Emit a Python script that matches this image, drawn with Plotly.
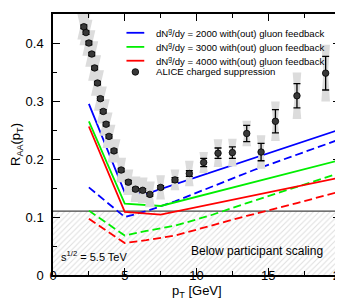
import plotly.graph_objects as go

# ---------------- data ----------------
alice_pt = [2.15, 2.3, 2.5, 2.7, 2.9, 3.1, 3.3, 3.5, 3.7, 3.9, 4.25, 4.75, 5.25, 5.75,
            6.25, 6.75, 7.5, 8.5, 9.5, 10.5, 11.5, 12.5, 13.5, 14.5, 15.5, 17.0, 19.0]
alice_raa = [0.428, 0.418, 0.400, 0.381, 0.357, 0.331, 0.304, 0.282, 0.260, 0.239, 0.214,
             0.181, 0.160, 0.148, 0.146, 0.139, 0.151, 0.164, 0.175, 0.194, 0.210, 0.211,
             0.244, 0.212, 0.265, 0.309, 0.348]
alice_stat = [0.003, 0.003, 0.003, 0.003, 0.003, 0.003, 0.003, 0.003, 0.003, 0.003, 0.003,
              0.003, 0.003, 0.003, 0.003, 0.003, 0.003, 0.004, 0.005, 0.007, 0.009, 0.010,
              0.014, 0.015, 0.020, 0.021, 0.029]
alice_sys = [0.022, 0.022, 0.022, 0.022, 0.022, 0.022, 0.021, 0.021, 0.020, 0.020, 0.020,
             0.021, 0.022, 0.022, 0.022, 0.022, 0.021, 0.018, 0.022, 0.018, 0.024, 0.024,
             0.022, 0.029, 0.034, 0.040, 0.049]
alice_boxw = [0.45, 0.45, 0.45, 0.45, 0.45, 0.45, 0.45, 0.45, 0.45, 0.45, 0.45,
              0.34, 0.34, 0.34, 0.34, 0.34, 0.30, 0.30, 0.30, 0.30, 0.30, 0.30,
              0.30, 0.30, 0.30, 0.30, 0.30]

blue_solid_x = [2.5, 5.0, 6.5, 20.0]
blue_solid_y = [0.295, 0.142, 0.140, 0.251]
blue_dash_x = [2.5, 5.0, 6.5, 8.5, 14.0, 20.0]
blue_dash_y = [0.151, 0.100, 0.110, 0.127, 0.181, 0.234]
green_solid_x = [2.5, 5.0, 7.5, 20.0]
green_solid_y = [0.265, 0.123, 0.119, 0.198]
green_dash_x = [2.5, 5.0, 6.5, 8.5, 11.0, 13.5, 17.0, 20.0]
green_dash_y = [0.111, 0.068, 0.076, 0.085, 0.103, 0.124, 0.152, 0.176]
red_solid_x = [2.5, 5.0, 7.5, 20.0]
red_solid_y = [0.256, 0.109, 0.104, 0.168]
red_dash_x = [2.5, 5.0, 6.5, 8.5, 11.0, 13.5, 17.0, 20.0]
red_dash_y = [0.097, 0.055, 0.060, 0.068, 0.085, 0.102, 0.124, 0.144]

participant_level = 0.11
x_range = [0, 20]
y_range = [0, 0.45]

legend_labels = ["dN<sup>g</sup>/dy = 2000 with(out) gluon feedback",
                 "dN<sup>g</sup>/dy = 3000 with(out) gluon feedback",
                 "dN<sup>g</sup>/dy = 4000 with(out) gluon feedback",
                 "ALICE charged suppression"]
legend_colors = ["#0000ff", "#00ee00", "#ff0000"]

FONT = "Liberation Sans, Arial, sans-serif"

fig = go.Figure()

# hatched "below participant scaling" region
fig.add_trace(go.Scatter(
    x=[x_range[0], x_range[1], x_range[1], x_range[0], x_range[0]],
    y=[0, 0, participant_level, participant_level, 0],
    fill="toself", mode="none", fillcolor="white",
    fillpattern=dict(shape="/", fgcolor="#bdbdbd", bgcolor="white", size=4, solidity=0.25),
    hoverinfo="skip", showlegend=False))
fig.add_trace(go.Scatter(
    x=x_range, y=[participant_level, participant_level], mode="lines",
    line=dict(color="#444444", width=1.3), hoverinfo="skip", showlegend=False))

# model curves
curves = [
    (blue_solid_x, blue_solid_y, legend_colors[0], "solid"),
    (blue_dash_x, blue_dash_y, legend_colors[0], "8px,4px"),
    (green_solid_x, green_solid_y, legend_colors[1], "solid"),
    (green_dash_x, green_dash_y, legend_colors[1], "8px,4px"),
    (red_solid_x, red_solid_y, legend_colors[2], "solid"),
    (red_dash_x, red_dash_y, legend_colors[2], "8px,4px"),
]
for cx, cy, col, dash in curves:
    fig.add_trace(go.Scatter(x=cx, y=cy, mode="lines",
                             line=dict(color=col, width=1.8, dash=dash),
                             hoverinfo="skip", showlegend=False))

# systematic boxes (hourglass shaped grey boxes)
bx, by = [], []
for x, y, s, w in zip(alice_pt, alice_raa, alice_sys, alice_boxw):
    bx += [x - w, x + w, x + 0.55 * w, x + w, x - w, x - 0.55 * w, x - w, None]
    by += [y + s, y + s, y, y - s, y - s, y, y + s, None]
fig.add_trace(go.Scatter(x=bx, y=by, fill="toself", mode="none",
                         fillcolor="#dcdcdc", hoverinfo="skip", showlegend=False))

# ALICE points
fig.add_trace(go.Scatter(
    x=alice_pt, y=alice_raa, mode="markers",
    marker=dict(size=6.5, color="#383838", line=dict(color="black", width=0.8)),
    error_y=dict(type="data", array=alice_stat, color="black", thickness=1.3, width=3.5),
    showlegend=False))

# ---- manual legend (paper coordinates) ----
row_y = [0.928, 0.874, 0.821, 0.778]
shapes = []
for i in range(3):
    shapes.append(dict(type="line", xref="paper", yref="paper", x0=0.256, x1=0.318,
                       y0=row_y[i], y1=row_y[i], line=dict(color=legend_colors[i], width=1.8)))
shapes.append(dict(type="circle", xref="paper", yref="paper", xsizemode="pixel",
                   ysizemode="pixel", xanchor=0.287, yanchor=row_y[3],
                   x0=-3.3, x1=3.3, y0=-3.3, y1=3.3,
                   fillcolor="#383838", line=dict(color="black", width=0.8)))
annotations = []
for i, lab in enumerate(legend_labels):
    annotations.append(dict(xref="paper", yref="paper", x=0.352, y=row_y[i],
                            xanchor="left", yanchor="middle", text=lab, showarrow=False,
                            font=dict(family=FONT, size=9.6, color="black")))
annotations.append(dict(xref="paper", yref="paper", x=0.02, y=0.074, xanchor="left",
                        yanchor="middle", text="s<sup>1/2</sup> = 5.5 TeV", showarrow=False,
                        font=dict(family=FONT, size=11, color="black")))
annotations.append(dict(xref="paper", yref="paper", x=0.475, y=0.091, xanchor="left",
                        yanchor="middle", text="Below participant scaling", showarrow=False,
                        font=dict(family=FONT, size=12, color="black")))
# x-axis title (placed close to tick labels as in the reference)
annotations.append(dict(xref="paper", yref="paper", x=0.5, y=-0.064, xanchor="center",
                        yanchor="middle", text="p<sub>T</sub> [GeV]", showarrow=False,
                        font=dict(family=FONT, size=13, color="black")))

axis_common = dict(showline=True, linecolor="black", linewidth=1.5, mirror="ticks",
                   ticks="inside", ticklen=7, tickwidth=1.2, tickcolor="black",
                   showgrid=False, zeroline=False,
                   tickfont=dict(family=FONT, size=13, color="black"))

fig.update_layout(
    width=343, height=300,
    margin=dict(l=45, r=9, t=4, b=33),
    paper_bgcolor="white", plot_bgcolor="white",
    showlegend=False,
    shapes=shapes, annotations=annotations,
    xaxis=dict(range=x_range, tick0=0, dtick=5, ticklabelstandoff=-12,
               minor=dict(dtick=2.5, ticks="inside", ticklen=4, tickcolor="black", tickwidth=1.2),
               **axis_common),
    yaxis=dict(range=y_range, tick0=0, dtick=0.1, ticklabelstandoff=5,
               minor=dict(dtick=0.05, ticks="inside", ticklen=4, tickcolor="black", tickwidth=1.2),
               title=dict(text="R<sub>AA</sub>(p<sub>T</sub>)", font=dict(family=FONT, size=13, color="black"),
                          standoff=4),
               **axis_common),
)

fig.write_html("out.html")
